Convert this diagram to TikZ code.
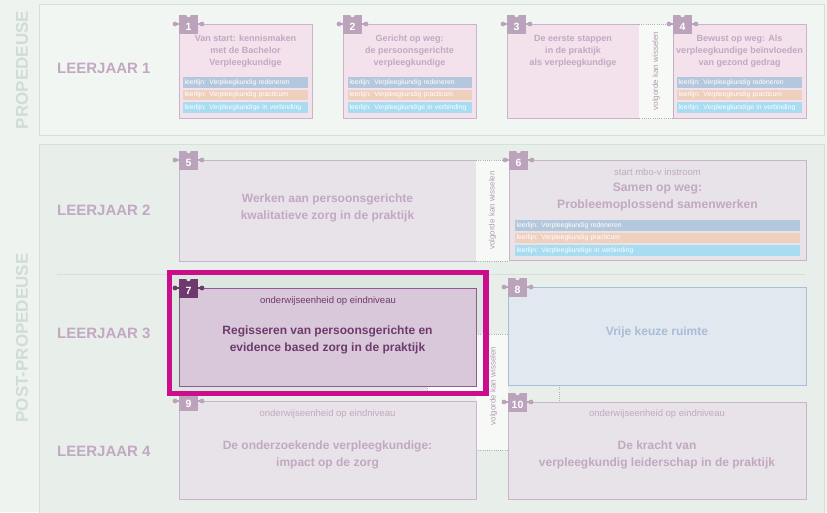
\documentclass[tikz,border=0pt]{standalone}
\usepackage{fontspec}
\setmainfont{Liberation Sans}
\usetikzlibrary{calc}
\definecolor{bgc}{HTML}{EFF3F0}
\definecolor{propfill}{HTML}{F2F6F3}
\definecolor{postfill}{HTML}{E8EEEA}
\definecolor{panelline}{HTML}{D5E0DA}
\definecolor{sidetext}{HTML}{CFDDD5}
\definecolor{mauve}{HTML}{C2A8C2}
\definecolor{tabc}{HTML}{BCA3BC}
\definecolor{ubord}{HTML}{C9B4C9}
\definecolor{upink}{HTML}{F3E1EB}
\definecolor{ugray}{HTML}{E8E3E8}
\definecolor{lblue}{HTML}{B4C8DD}
\definecolor{lorange}{HTML}{EFD0BE}
\definecolor{lcyan}{HTML}{A8DCF1}
\definecolor{dpurple}{HTML}{6E3A6E}
\definecolor{u7fill}{HTML}{D8C8D9}
\definecolor{u7bord}{HTML}{8E5C8E}
\definecolor{magenta7}{HTML}{CC0E8C}
\definecolor{frameinner}{HTML}{DDE7E2}
\definecolor{u8fill}{HTML}{E1E8F0}
\definecolor{u8bord}{HTML}{A8BFD9}
\definecolor{u8text}{HTML}{A8BDD6}
\definecolor{swapfill}{HTML}{F7F9F7}
\definecolor{dotc}{HTML}{B0B0B0}
\definecolor{swaptext}{HTML}{B09CB0}

\newcommand{\puzzletab}[4]{%
  \fill[#3] ($(#1.north west)+(0,-9)$) rectangle ($(#1.north west)+(19,10)$);
  \draw[#3, line width=1.3pt] ($(#1.north west)+(-4,0)$) -- ($(#1.north west)+(23,0)$);
  \fill[#3] ($(#1.north west)+(-4,0)$) circle (2.4);
  \fill[#3] ($(#1.north west)+(23,0)$) circle (2.4);
  \fill[#4] ($(#1.north west)+(9.5,-9)$) circle (2.2);
  \node[tabnum] (#1n) at ($(#1.north west)+(9.5,2.5)$) {#2};
}
\newcommand{\leerlijnen}[4]{%
  \node[bar, fill=lblue, text width=#4] (#1a) at (#2,#3) {leerlijn: Verpleegkundig redeneren};
  \node[bar, fill=lorange, text width=#4] (#1b) at ($(#1a.north west)+(0,12.5)$) {leerlijn: Verpleegkundig practicum};
  \node[bar, fill=lcyan, text width=#4] (#1c) at ($(#1b.north west)+(0,12.8)$) {leerlijn: Verpleegkundige in verbinding};
}

\begin{document}
\begin{tikzpicture}[x=1pt,y=-1pt,
  unit/.style={draw=ubord, line width=0.8pt, inner sep=0pt, outer sep=0pt, anchor=north west},
  pinkunit/.style={unit, fill=upink},
  grayunit/.style={unit, fill=ugray},
  swapbox/.style={fill=swapfill, inner sep=0pt, outer sep=0pt, anchor=north west},
  dotline/.style={draw=dotc, line width=0.7pt, dash pattern=on 1pt off 1.2pt},
  bar/.style={anchor=north west, inner xsep=1.5pt, inner ysep=0pt, outer sep=0pt, minimum height=10.5pt, align=left, text=white, font=\fontsize{6.8}{7}\selectfont},
  title/.style={align=center, font=\bfseries\fontsize{9}{12}\selectfont, text=mauve, inner sep=0pt},
  bigtitle/.style={align=center, font=\bfseries\fontsize{12}{17}\selectfont, text=mauve, inner sep=0pt},
  subtext/.style={font=\fontsize{9.5}{11}\selectfont, text=mauve, inner sep=0pt},
  yearlabel/.style={font=\bfseries\fontsize{15}{15}\selectfont, text=mauve, anchor=west, inner sep=0pt},
  sidelabel/.style={rotate=90, font=\bfseries\fontsize{17}{17}\selectfont, text=sidetext, inner sep=0pt},
  swaplabel/.style={rotate=90, font=\fontsize{8}{8}\selectfont, text=swaptext, inner sep=0pt},
  tabnum/.style={font=\bfseries\fontsize{10.5}{10.5}\selectfont, text=white, inner sep=0pt}
]
\useasboundingbox (0,0) rectangle (827,512);
\fill[bgc] (0,0) rectangle (827,512);

% panels
\draw[panelline, fill=propfill, line width=0.9pt] (39,4) rectangle (824,135);
\draw[panelline, fill=postfill, line width=0.9pt] (39,144) rectangle (824,516);
\draw[panelline, line width=1pt] (57,274) -- (805,274);

\node[sidelabel] (prop) at (22,70) {PROPEDEUSE};
\node[sidelabel] (post) at (22,338) {POST-PROPEDEUSE};

\node[yearlabel] (lj1) at (57,68) {LEERJAAR 1};
\node[yearlabel] (lj2) at (57,210) {LEERJAAR 2};
\node[yearlabel] (lj3) at (57,333) {LEERJAAR 3};
\node[yearlabel] (lj4) at (57,451) {LEERJAAR 4};

% ---------- Leerjaar 1
\node[pinkunit, minimum width=133, minimum height=94] (u1) at (179,24) {};
\node[pinkunit, minimum width=133, minimum height=94] (u2) at (343,24) {};
\node[pinkunit, minimum width=132, minimum height=94] (u3) at (507,24) {};
\node[swapbox, minimum width=34, minimum height=94] (s34) at (639,24) {};
\node[pinkunit, minimum width=133, minimum height=94] (u4) at (673,24) {};
\draw[dotline] (s34.north west) -- (s34.north east) -- (s34.south east) -- (s34.south west);
\node[swaplabel] (s34t) at (s34.center) {volgorde kan wisselen};

\puzzletab{u1}{1}{tabc}{propfill}
\puzzletab{u2}{2}{tabc}{propfill}
\puzzletab{u3}{3}{tabc}{propfill}
\puzzletab{u4}{4}{tabc}{propfill}

\node[title] (t1) at (245.5,51) {Van start: kennismaken\\met de Bachelor\\Verpleegkundige};
\node[title] (t2) at (409.5,51) {Gericht op weg:\\de persoonsgerichte\\verpleegkundige};
\node[title] (t3) at (573,51.5) {De eerste stappen\\in de praktijk\\als verpleegkundige};
\node[title] (t4) at (739.5,51) {Bewust op weg: Als\\verpleegkundige beïnvloeden\\van gezond gedrag};

\leerlijnen{b1}{183}{77}{122pt}
\leerlijnen{b2}{348}{77}{121pt}
\leerlijnen{b4}{677}{77}{122pt}

% ---------- Leerjaar 2
\node[grayunit, minimum width=297, minimum height=101] (u5) at (179,160) {};
\node[swapbox, minimum width=33, minimum height=101] (s56) at (476,160) {};
\node[grayunit, minimum width=297, minimum height=100] (u6) at (509,160) {};
\draw[dotline] (s56.north west) -- (s56.north east);
\draw[dotline] (s56.south west) -- (s56.south east);
\node[swaplabel] (s56t) at (s56.center) {volgorde kan wisselen};

\puzzletab{u5}{5}{tabc}{postfill}
\puzzletab{u6}{6}{tabc}{postfill}

\node[bigtitle] (t5) at (327.5,208) {Werken aan persoonsgerichte\\kwalitatieve zorg in de praktijk};
\node[subtext] (st6) at (657.5,172) {start mbo-v instroom};
\node[bigtitle, font=\bfseries\fontsize{12.2}{17}\selectfont] (t6) at (657.5,197.5) {Samen op weg:\\Probleemoplossend samenwerken};
\leerlijnen{b6}{515}{220}{282pt}

% ---------- Leerjaar 3 / 4
\fill[frameinner] (172,275) rectangle (484,391);
\fill[white] (476,334) rectangle (485,392);
\fill[white] (427,386) rectangle (485,392);
\node[swapbox, minimum width=32, minimum height=116] (s79) at (476,334) {};
\draw[dotline] (s79.north west) -- (s79.north east);
\draw[dotline] (s79.south west) -- (s79.south east);
\draw[dotline] (427,386) -- (427,392);

\node[unit, draw=u7bord, fill=u7fill, minimum width=297, minimum height=98] (u7) at (179,288) {};
\node[unit, draw=u8bord, fill=u8fill, minimum width=298, minimum height=98] (u8) at (508,287) {};
\node[grayunit, minimum width=297, minimum height=98] (u9) at (179,401) {};
\node[grayunit, minimum width=298, minimum height=97] (u10) at (508,402) {};
\draw[dotline] ($(u8.south west)+(51,0)$) -- ($(u10.north west)+(51,0)$);

\puzzletab{u7}{7}{dpurple}{frameinner}
\puzzletab{u8}{8}{tabc}{postfill}
\puzzletab{u9}{9}{tabc}{postfill}
\puzzletab{u10}{10}{tabc}{postfill}

\node[subtext, text=dpurple] (st7) at (328,301) {onderwijseenheid op eindniveau};
\node[bigtitle, text=dpurple] (t7) at (327.5,340) {Regisseren van persoonsgerichte en\\evidence based zorg in de praktijk};
\node[bigtitle, text=u8text] (t8) at (657,332) {Vrije keuze ruimte};
\node[subtext] (st9) at (327.5,414) {onderwijseenheid op eindniveau};
\node[bigtitle] (t9) at (327.5,455) {De onderzoekende verpleegkundige:\\impact op de zorg};
\node[subtext] (st10) at (657,414) {onderwijseenheid op eindniveau};
\node[bigtitle] (t10) at (657,455) {De kracht van\\verpleegkundig leiderschap in de praktijk};

% highlight frame of unit 7
\draw[magenta7, line width=5.5pt] (169.5,272.5) rectangle (486.2,393.5);
\node[swaplabel] (s79t) at (493.5,386) {volgorde kan wisselen};
\end{tikzpicture}
\end{document}
